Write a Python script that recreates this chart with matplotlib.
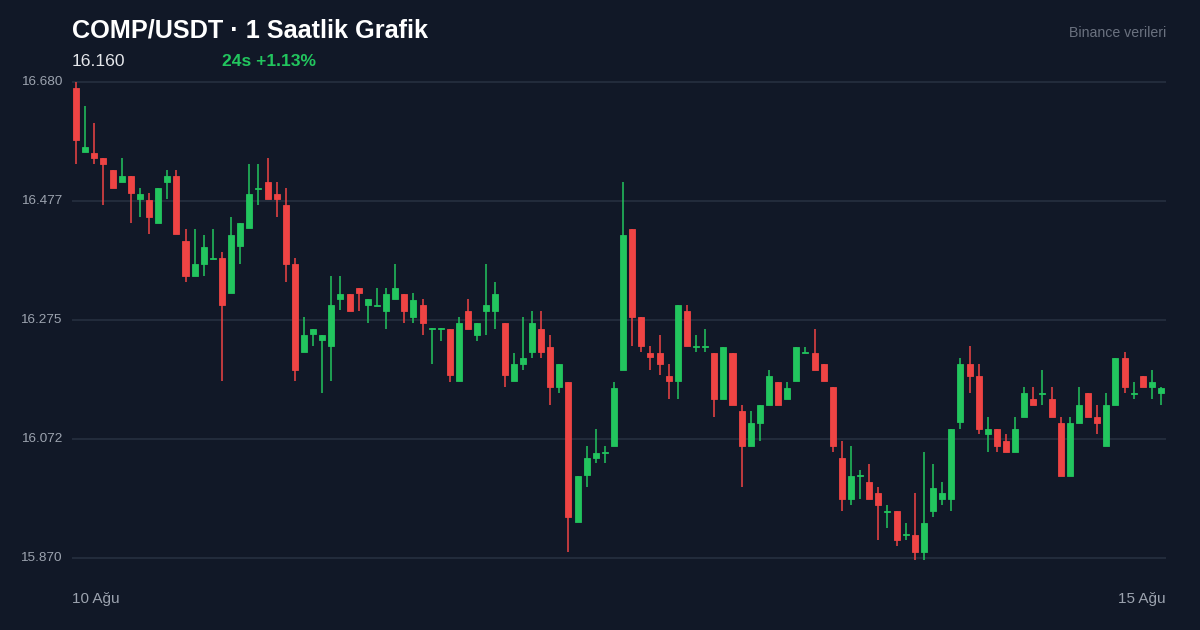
import matplotlib
matplotlib.use("Agg")
import matplotlib.pyplot as plt
from matplotlib.patches import Rectangle

BG, GRID, TXT, MUTED = "#111827", "#263040", "#f3f4f6", "#9ca3af"
UP, DOWN = "#22c55e", "#ef4444"

# hourly OHLC, COMP/USDT
opens = [16.670, 16.561, 16.559, 16.551, 16.530, 16.510, 16.520, 16.481, 16.479, 16.440,
         16.510, 16.520, 16.409, 16.350, 16.370, 16.379, 16.381, 16.321, 16.401, 16.432,
         16.498, 16.510, 16.489, 16.471, 16.370, 16.221, 16.251, 16.241, 16.231, 16.311,
         16.319, 16.329, 16.301, 16.299, 16.290, 16.311, 16.319, 16.280, 16.301, 16.260,
         16.260, 16.260, 16.171, 16.290, 16.249, 16.290, 16.290, 16.270, 16.171, 16.200,
         16.221, 16.260, 16.229, 16.161, 16.170, 15.931, 16.011, 16.040, 16.049, 16.061,
         16.190, 16.430, 16.280, 16.219, 16.219, 16.180, 16.171, 16.290, 16.229, 16.229,
         16.219, 16.141, 16.219, 16.120, 16.061, 16.100, 16.130, 16.170, 16.141, 16.171,
         16.219, 16.219, 16.200, 16.161, 16.040, 15.970, 16.010, 16.000, 15.981, 15.948,
         15.950, 15.909, 15.909, 15.880, 15.950, 15.970, 15.970, 16.101, 16.200, 16.180,
         16.081, 16.090, 16.069, 16.050, 16.110, 16.141, 16.149, 16.141, 16.100, 16.010,
         16.100, 16.151, 16.110, 16.061, 16.130, 16.210, 16.149, 16.180, 16.161, 16.151]
highs = [16.680, 16.639, 16.610, 16.551, 16.530, 16.551, 16.520, 16.500, 16.491, 16.500,
         16.530, 16.530, 16.430, 16.430, 16.420, 16.430, 16.391, 16.450, 16.440, 16.540,
         16.540, 16.551, 16.510, 16.500, 16.381, 16.280, 16.260, 16.249, 16.350, 16.350,
         16.319, 16.329, 16.311, 16.329, 16.329, 16.370, 16.319, 16.321, 16.311, 16.262,
         16.262, 16.260, 16.280, 16.311, 16.270, 16.370, 16.340, 16.270, 16.219, 16.280,
         16.290, 16.290, 16.249, 16.200, 16.170, 16.010, 16.061, 16.090, 16.061, 16.170,
         16.510, 16.430, 16.280, 16.231, 16.249, 16.200, 16.301, 16.301, 16.249, 16.260,
         16.219, 16.229, 16.219, 16.130, 16.120, 16.130, 16.190, 16.170, 16.170, 16.229,
         16.229, 16.260, 16.200, 16.161, 16.069, 16.061, 16.020, 16.030, 15.991, 15.960,
         15.950, 15.930, 15.981, 16.050, 16.030, 16.000, 16.090, 16.210, 16.231, 16.200,
         16.110, 16.090, 16.081, 16.110, 16.161, 16.161, 16.190, 16.161, 16.110, 16.110,
         16.161, 16.151, 16.130, 16.151, 16.210, 16.221, 16.170, 16.180, 16.190, 16.161]
lows = [16.540, 16.561, 16.540, 16.471, 16.500, 16.510, 16.440, 16.450, 16.421, 16.440,
        16.481, 16.421, 16.340, 16.350, 16.350, 16.379, 16.171, 16.321, 16.370, 16.432,
        16.471, 16.481, 16.450, 16.340, 16.171, 16.221, 16.231, 16.151, 16.171, 16.292,
        16.290, 16.290, 16.270, 16.299, 16.260, 16.311, 16.270, 16.270, 16.249, 16.200,
        16.239, 16.170, 16.171, 16.260, 16.239, 16.249, 16.260, 16.161, 16.171, 16.190,
        16.210, 16.210, 16.130, 16.151, 15.880, 15.931, 15.991, 16.032, 16.032, 16.061,
        16.190, 16.231, 16.221, 16.190, 16.181, 16.141, 16.141, 16.231, 16.221, 16.221,
        16.110, 16.141, 16.130, 15.991, 16.061, 16.069, 16.130, 16.130, 16.141, 16.171,
        16.219, 16.190, 16.171, 16.050, 15.950, 15.960, 15.970, 15.970, 15.901, 15.921,
        15.891, 15.901, 15.867, 15.867, 15.940, 15.960, 15.950, 16.090, 16.151, 16.081,
        16.050, 16.050, 16.050, 16.050, 16.110, 16.130, 16.130, 16.110, 16.010, 16.010,
        16.100, 16.110, 16.081, 16.061, 16.130, 16.151, 16.141, 16.161, 16.141, 16.130]
closes = [16.581, 16.569, 16.551, 16.540, 16.500, 16.520, 16.491, 16.489, 16.450, 16.500,
          16.520, 16.421, 16.350, 16.370, 16.399, 16.381, 16.301, 16.420, 16.440, 16.489,
          16.500, 16.481, 16.481, 16.370, 16.190, 16.249, 16.260, 16.249, 16.301, 16.319,
          16.290, 16.321, 16.311, 16.301, 16.319, 16.329, 16.290, 16.309, 16.270, 16.261,
          16.261, 16.181, 16.270, 16.260, 16.270, 16.301, 16.319, 16.181, 16.200, 16.210,
          16.270, 16.221, 16.161, 16.200, 15.940, 16.010, 16.040, 16.049, 16.050, 16.159,
          16.420, 16.280, 16.231, 16.212, 16.200, 16.171, 16.301, 16.231, 16.230, 16.230,
          16.141, 16.229, 16.130, 16.061, 16.100, 16.130, 16.180, 16.130, 16.159, 16.229,
          16.220, 16.190, 16.171, 16.061, 15.970, 16.010, 16.011, 15.970, 15.960, 15.949,
          15.901, 15.910, 15.880, 15.930, 15.989, 15.981, 16.090, 16.200, 16.180, 16.090,
          16.090, 16.061, 16.050, 16.090, 16.151, 16.130, 16.150, 16.110, 16.010, 16.100,
          16.130, 16.110, 16.100, 16.130, 16.210, 16.161, 16.150, 16.161, 16.170, 16.160]
yticks = [15.870, 16.072, 16.275, 16.477, 16.680]
xlabels = ["10 Ağu", "15 Ağu"]

plt.rcParams["font.family"] = ["Liberation Sans", "DejaVu Sans"]
fig = plt.figure(figsize=(12, 6.3), dpi=100, facecolor=BG)
ax = fig.add_axes([72 / 1200, 60 / 630, 1094 / 1200, 500 / 630], facecolor=BG)

for i, (o, h, l, c) in enumerate(zip(opens, highs, lows, closes)):
    col = UP if c >= o else DOWN
    ax.plot([i, i], [l, h], color=col, lw=1.1, solid_capstyle="butt", zorder=2)
    lo, hi = min(o, c), max(o, c)
    ax.add_patch(Rectangle((i - 0.33, lo), 0.66, max(hi - lo, 0.002), facecolor=col,
                           edgecolor=col, lw=0.6, zorder=3))

ax.set_xlim(-0.45, len(opens) - 0.45)
ax.set_ylim(15.8496, 16.7004)
for v in yticks:
    ax.axhline(v, color=GRID, lw=1.2, zorder=1)
    fig.text(62 / 1200, ax.transData.transform((0, v))[1] / 630, f"{v:.3f}",
             ha="right", va="center", color=MUTED, fontsize=9.7)
ax.set_xticks([])
ax.set_yticks([])
for s in ax.spines.values():
    s.set_visible(False)

fig.text(72 / 1200, 1 - 30 / 630, "COMP/USDT · 1 Saatlik Grafik", color="white",
         fontsize=18.2, fontweight="bold", va="center")
fig.text(72 / 1200, 1 - 61 / 630, f"{closes[-1]:.3f}", color="#e5e7eb", fontsize=12.6, va="center")
fig.text(222 / 1200, 1 - 61 / 630, "24s +1.13%", color=UP, fontsize=12.6,
         fontweight="bold", va="center")
fig.text(1166 / 1200, 1 - 33 / 630, "Binance verileri", color="#6b7280", fontsize=10.2,
         ha="right", va="center")
fig.text(72 / 1200, 1 - 599 / 630, xlabels[0], color=MUTED, fontsize=11, va="center")
fig.text(1166 / 1200, 1 - 599 / 630, xlabels[1], color=MUTED, fontsize=11, ha="right", va="center")

fig.savefig("out.png", facecolor=BG)
